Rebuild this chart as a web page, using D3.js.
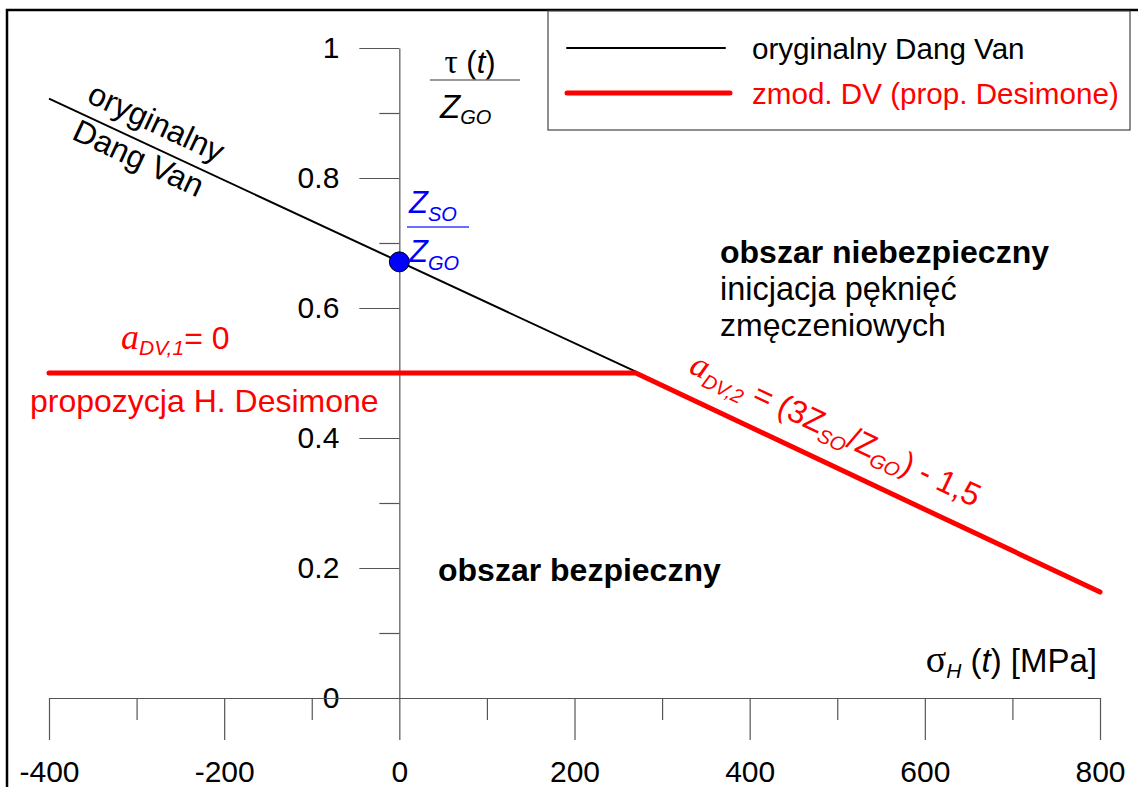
<!DOCTYPE html>
<html><head><meta charset="utf-8">
<script src="https://cdn.jsdelivr.net/npm/d3@7"></script>
<style>
body{margin:0;background:#fff;}
svg{display:block;font-family:"Liberation Sans",Arial,sans-serif;}
</style></head><body>
<svg id="chart" width="1138" height="787"></svg>
<script>
// axis ticks
const xTicks = [-400, -200, 0, 200, 400, 600, 800];
const xMinorTicks = [-300, -100, 100, 300, 500, 700];
const yTicks = [0, 0.2, 0.4, 0.6, 0.8, 1];
const yMinorTicks = [0.1, 0.3, 0.5, 0.7, 0.9];

// criterion lines: s = sigma_H [MPa], t = tau / Z_GO
const dangVan = [{s: -400, t: 0.922}, {s: 270, t: 0.502}];
const desimone = [{s: -400, t: 0.5}, {s: 270, t: 0.5}, {s: 800, t: 0.163}];
const ratioPoint = [{s: 0, t: 0.671}];

const legendItems = [
  {label: "oryginalny Dang Van", color: "#000000", width: 2},
  {label: "zmod. DV (prop. Desimone)", color: "#ff0000", width: 5}
];

const svg = d3.select("#chart");
const x = d3.scaleLinear().domain([-400, 800]).range([49, 1100]);
const y = d3.scaleLinear().domain([0, 1]).range([698, 48]);

// text helper: segments {t, sub, it, serif, fs}
function rich(sel, segs, baseSize, subSize, subShift) {
  let shift = 0;
  segs.forEach(sg => {
    const ts = sel.append("tspan").text(sg.t);
    const fs = sg.fs || (sg.sub ? subSize : baseSize);
    ts.attr("font-size", fs);
    const target = sg.sub ? subShift : 0;
    if (target !== shift) { ts.attr("dy", target - shift); shift = target; }
    if (sg.it) ts.attr("font-style", "italic");
    if (sg.serif) ts.attr("font-family", "'Liberation Serif','Times New Roman',serif");
  });
  return sel;
}

// outer frame
svg.append("rect").attr("x", 7).attr("y", 10).attr("width", 1150).attr("height", 800)
  .attr("fill", "none").attr("stroke", "#000").attr("stroke-width", 2.5);

// y axis at sigma = 0
svg.append("g").attr("transform", `translate(${x(0)},0)`)
  .call(d3.axisLeft(y).tickValues(yTicks).tickSize(40).tickSizeOuter(0).tickPadding(20)
    .tickFormat(d => String(d)));
svg.append("g").attr("transform", `translate(${x(0)},0)`)
  .call(d3.axisLeft(y).tickValues(yMinorTicks).tickSize(20).tickFormat(""))
  .call(g => g.select(".domain").remove());

// x axis at tau = 0
svg.append("g").attr("transform", `translate(0,${y(0)})`)
  .call(d3.axisBottom(x).tickValues(xTicks).tickSize(42).tickSizeOuter(0).tickPadding(21)
    .tickFormat(d => String(d)));
svg.append("g").attr("transform", `translate(0,${y(0)})`)
  .call(d3.axisBottom(x).tickValues(xMinorTicks).tickSize(22).tickFormat(""))
  .call(g => g.select(".domain").remove());

svg.selectAll(".domain, .tick line").attr("stroke", "#555").attr("stroke-width", 1.2);
svg.selectAll(".tick text").attr("font-size", 30).attr("fill", "#000")
  .attr("font-family", "'Liberation Sans',Arial,sans-serif");

const line = d3.line().x(d => x(d.s)).y(d => y(d.t));

svg.append("path").datum(dangVan).attr("d", line)
  .attr("fill", "none").attr("stroke", "#000").attr("stroke-width", 2);
svg.append("path").datum(desimone).attr("d", line)
  .attr("fill", "none").attr("stroke", "#ff0000").attr("stroke-width", 5)
  .attr("stroke-linecap", "round").attr("stroke-linejoin", "round");

svg.selectAll("circle.pt").data(ratioPoint).join("circle").attr("class", "pt")
  .attr("cx", d => x(d.s)).attr("cy", d => y(d.t)).attr("r", 10)
  .attr("fill", "#0000ff").attr("stroke", "#000").attr("stroke-width", 1);

// y axis title: tau(t) / Z_GO
rich(svg.append("text").attr("x", 470).attr("y", 73).attr("text-anchor", "middle").attr("fill", "#000"),
  [{t: "τ", serif: true, fs: 33}, {t: " ("}, {t: "t", it: true}, {t: ")"}], 31, 20, 0);
svg.append("line").attr("x1", 430).attr("x2", 520).attr("y1", 80).attr("y2", 80)
  .attr("stroke", "#777").attr("stroke-width", 1.5);
rich(svg.append("text").attr("x", 440).attr("y", 118).attr("fill", "#000"),
  [{t: "Z", it: true}, {t: "GO", it: true, sub: true}], 33, 20, 6);

// ratio label next to the point
rich(svg.append("text").attr("x", 409).attr("y", 213).attr("fill", "#0000ff"),
  [{t: "Z", it: true}, {t: "SO", it: true, sub: true}], 31, 20, 8);
svg.append("line").attr("x1", 407).attr("x2", 469).attr("y1", 227).attr("y2", 227)
  .attr("stroke", "#6b6bff").attr("stroke-width", 2);
rich(svg.append("text").attr("x", 409).attr("y", 262).attr("fill", "#0000ff"),
  [{t: "Z", it: true}, {t: "GO", it: true, sub: true}], 31, 20, 8);

// x axis title
rich(svg.append("text").attr("x", 1097).attr("y", 672).attr("text-anchor", "end").attr("fill", "#000"),
  [{t: "σ", serif: true, fs: 38}, {t: "H", it: true, sub: true}, {t: " ("}, {t: "t", it: true}, {t: ") [MPa]"}], 33, 21, 6);

// region labels
svg.append("text").attr("x", 720).attr("y", 263).attr("font-size", 32).attr("font-weight", "bold")
  .text("obszar niebezpieczny");
svg.append("text").attr("x", 720).attr("y", 300).attr("font-size", 32.5).text("inicjacja pęknięć");
svg.append("text").attr("x", 720).attr("y", 336).attr("font-size", 32).text("zmęczeniowych");
svg.append("text").attr("x", 438).attr("y", 581).attr("font-size", 32).attr("font-weight", "bold")
  .text("obszar bezpieczny");

// Desimone horizontal branch labels
rich(svg.append("text").attr("x", 121).attr("y", 349).attr("fill", "#ff0000"),
  [{t: "a", it: true, serif: true, fs: 36}, {t: "DV,1", it: true, sub: true}, {t: "= 0"}], 32, 21, 6);
svg.append("text").attr("x", 30).attr("y", 412).attr("font-size", 32).attr("fill", "#ff0000")
  .text("propozycja H. Desimone");

// labels running along the sloped lines
function angleOf(pts) {
  const a = pts[pts.length - 2], b = pts[pts.length - 1];
  return Math.atan2(y(b.t) - y(a.t), x(b.s) - x(a.s)) * 180 / Math.PI;
}
function onLine(pts, s) {
  const a = pts[pts.length - 2], b = pts[pts.length - 1];
  const t = a.t + (b.t - a.t) * (s - a.s) / (b.s - a.s);
  return [x(s), y(t)];
}

const dvAng = angleOf(dangVan);
const dvPos = onLine(dangVan, -289);
const gDv = svg.append("g").attr("transform", `translate(${dvPos[0]},${dvPos[1]}) rotate(${dvAng})`);
gDv.append("text").attr("x", 0).attr("y", -13).attr("text-anchor", "middle").attr("font-size", 32).text("oryginalny");
gDv.append("text").attr("x", -1).attr("y", 27).attr("text-anchor", "middle").attr("font-size", 32).text("Dang Van");

const rdAng = angleOf(desimone);
const rdPos = onLine(desimone, 318);
const gRd = svg.append("g").attr("transform", `translate(${rdPos[0]},${rdPos[1]}) rotate(${rdAng})`);
rich(gRd.append("text").attr("x", 0).attr("y", -23).attr("fill", "#ff0000"),
  [{t: "a", it: true, serif: true, fs: 35}, {t: "DV,2", it: true, sub: true}, {t: " = (3Z"},
   {t: "SO", it: true, sub: true}, {t: "/Z"}, {t: "GO", it: true, sub: true}, {t: ") - 1,5"}], 32, 20, 7);

// legend
const lg = svg.append("g");
lg.append("rect").attr("x", 548).attr("y", 11).attr("width", 582).attr("height", 119)
  .attr("fill", "#fff").attr("stroke", "#444").attr("stroke-width", 1.2);
const li = lg.selectAll("g.item").data(legendItems).join("g").attr("class", "item")
  .attr("transform", (d, i) => `translate(0,${48 + i * 45})`);
li.append("line").attr("x1", 567).attr("x2", d => d.width > 2 ? 730 : 725).attr("y1", 0).attr("y2", 0)
  .attr("stroke", d => d.color).attr("stroke-width", d => d.width).attr("stroke-linecap", "round");
li.append("text").attr("x", 752).attr("y", 11).attr("font-size", 29.6).attr("fill", d => d.color)
  .text(d => d.label);
</script>
</body></html>
